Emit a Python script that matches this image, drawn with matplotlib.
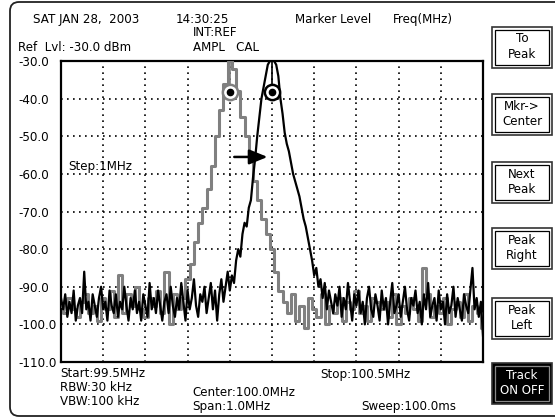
import matplotlib
matplotlib.use('Agg')
import matplotlib.pyplot as plt
import numpy as np
from matplotlib.patches import FancyBboxPatch, Rectangle

# frequency axis (MHz)
start_mhz = 99.5
stop_mhz = 100.5
levels = [-30, -40, -50, -60, -70, -80, -90, -100, -110]
level_labels = ['-30.0', '-40.0', '-50.0', '-60.0', '-70.0', '-80.0', '-90.0', '-100.0', '-110.0']

# black trace, 201 points 99.5 .. 100.5 MHz (dBm)
black_trace = [
    -93, -96, -92, -98, -94, -97, -91, -99, -95, -93,
    -97, -86, -96, -94, -99, -92, -95, -98, -93, -90,
    -96, -94, -99, -91, -95, -97, -92, -98, -94, -96,
    -90, -95, -99, -93, -96, -91, -97, -94, -99, -92,
    -95, -98, -89, -96, -93, -97, -91, -95, -99, -94,
    -92, -97, -90, -95, -98, -93, -96, -89, -94, -99,
    -91, -96, -93, -88, -95, -98, -92, -94, -90, -97,
    -93, -89, -96, -91, -99, -92, -88, -94, -90, -86,
    -91, -87, -89, -83, -80, -82, -76, -73, -74, -69,
    -67, -61, -56, -50, -45, -40, -37, -34, -31, -30,
    -30,
    -30, -31, -34, -40, -44, -49, -52, -54, -57,
    -60, -62, -64, -66, -69, -72, -74, -77, -80, -83,
    -87, -85, -90, -88, -93, -89, -96, -91, -94, -97,
    -92, -95, -90, -98, -93, -96, -89, -94, -99, -92,
    -95, -91, -97, -94, -100, -93, -90, -96, -98, -92,
    -95, -99, -91, -96, -93, -100, -94, -89, -97, -95,
    -92, -98, -94, -90, -96, -99, -93, -95, -91, -97,
    -94, -100, -92, -96, -89, -98, -95, -93, -99, -91,
    -96, -94, -100, -92, -97, -95, -90, -98, -93, -96,
    -99, -92, -95, -97, -91, -85, -96, -93, -98, -94,
    -103,
]

# gray (previous) trace, 101 points 99.5 .. 100.5 MHz (dBm)
gray_trace = [
    -95, -97, -93, -96, -98, -94, -92, -97, -95, -99,
    -93, -96, -91, -98, -87, -97, -92, -95, -90, -96,
    -98, -93, -95, -91, -97, -86, -100, -92, -96, -93,
    -88, -84, -78, -73, -69, -64, -58, -50, -43, -36,
    -30,
    -32, -38, -45, -50, -56, -62, -67, -72, -76,
    -80, -86, -91, -94, -97, -92, -99, -95, -101, -93,
    -96, -98, -92, -100, -95, -97, -93, -99, -94, -96,
    -91, -97, -95, -99, -93, -94, -96, -94, -98, -92,
    -100, -95, -97, -93, -96, -99, -85, -92, -98, -95,
    -97, -93, -100, -96, -94, -98, -92, -99, -95, -97,
    -101,
]

black_freq = np.linspace(start_mhz, stop_mhz, len(black_trace))
gray_freq = np.linspace(start_mhz, stop_mhz, len(gray_trace))

# markers
marker_freqs = [99.9, 100.0]
marker_level = -38.3
marker_colors = ['#808080', 'black']

buttons = ['To\nPeak', 'Mkr->\nCenter', 'Next\nPeak', 'Peak\nRight', 'Peak\nLeft', 'Track\nON OFF']
button_tops = [27, 94, 162, 228, 298, 363]

W, H = 555, 419
fig = plt.figure(figsize=(W / 100, H / 100), dpi=100)
plt.rcParams['font.family'] = ['DejaVu Sans']
fs = 8.6

# screen background axes in pixel units
bg = fig.add_axes([0, 0, 1, 1])
bg.set_xlim(0, W)
bg.set_ylim(H, 0)
bg.axis('off')

bg.add_patch(FancyBboxPatch((10, 2), 560, 414, boxstyle='round,pad=0,rounding_size=9',
                            fc='white', ec='#222222', lw=1.3))

def txt(x, y, s, **kw):
    bg.text(x, y, s, fontsize=fs, va='baseline', ha='left', **kw)

txt(33, 23, 'SAT JAN 28,  2003')
txt(176, 23, '14:30:25')
txt(193, 36, 'INT:REF')
txt(18, 51, 'Ref  Lvl: -30.0 dBm')
txt(193, 51, 'AMPL   CAL')
txt(295, 23, 'Marker Level')
txt(393, 23, 'Freq(MHz)')
txt(60, 377, 'Start:99.5MHz')
txt(60, 391, 'RBW:30 kHz')
txt(60, 405, 'VBW:100 kHz')
txt(192, 396, 'Center:100.0MHz')
txt(192, 410, 'Span:1.0MHz')
txt(320, 378, 'Stop:100.5MHz')
txt(361, 410, 'Sweep:100.0ms')

# soft keys
for label, top in zip(buttons, button_tops):
    dark = label.startswith('Track')
    h = 41
    bg.add_patch(Rectangle((492, top), 60, h, fc='black' if dark else 'white',
                           ec='#333333', lw=1.2))
    bg.add_patch(Rectangle((495, top + 3), 54, h - 6, fill=False,
                           ec='#888888' if dark else 'black', lw=0.9))
    l1, l2 = label.split('\n')
    c = 'white' if dark else 'black'
    bg.text(522, top + 12, l1, fontsize=fs, ha='center', va='center', color=c)
    bg.text(522, top + 27, l2, fontsize=fs, ha='center', va='center', color=c)

# trace area
ax = fig.add_axes([61 / W, (H - 362) / H, 422 / W, 301 / H])
ax.set_xlim(start_mhz, stop_mhz)
ax.set_ylim(-110, -30)
ax.set_xticks(np.linspace(start_mhz, stop_mhz, 11))
ax.set_yticks(levels)
ax.set_yticklabels(level_labels, fontsize=fs)
ax.tick_params(axis='x', length=0, labelbottom=False)
ax.tick_params(axis='y', length=0, pad=31)
for lbl in ax.get_yticklabels():
    lbl.set_ha('left')
ax.grid(True, color='black', linestyle=(0, (1, 2.6)), lw=1.2)
for s in ax.spines.values():
    s.set_linewidth(1.6)

ax.plot(gray_freq, gray_trace, color='#808080', lw=2.2, drawstyle='steps-mid', zorder=3)
ax.plot(black_freq, black_trace, color='black', lw=1.6, zorder=4)

for f, c in zip(marker_freqs, marker_colors):
    ax.plot([f, f], [marker_level, -30], color=c, lw=1.2, zorder=5)
    ax.plot(f, marker_level, 'o', ms=11, mfc='white', mec=c, mew=1.8, zorder=6)
    ax.plot(f, marker_level, 'o', ms=4.5, color='black', zorder=7)

# arrow gray peak -> black peak
ax.annotate('', xy=(marker_freqs[1] - 0.004, -55.5), xytext=(marker_freqs[0] + 0.004, -55.5),
            arrowprops=dict(arrowstyle='-|>,head_length=1.1,head_width=0.45',
                            color='black', lw=1.8), zorder=8)
ax.text(start_mhz + 0.016, -58, 'Step:1MHz', fontsize=fs, va='center', ha='left')

fig.savefig('out.png', dpi=100)
